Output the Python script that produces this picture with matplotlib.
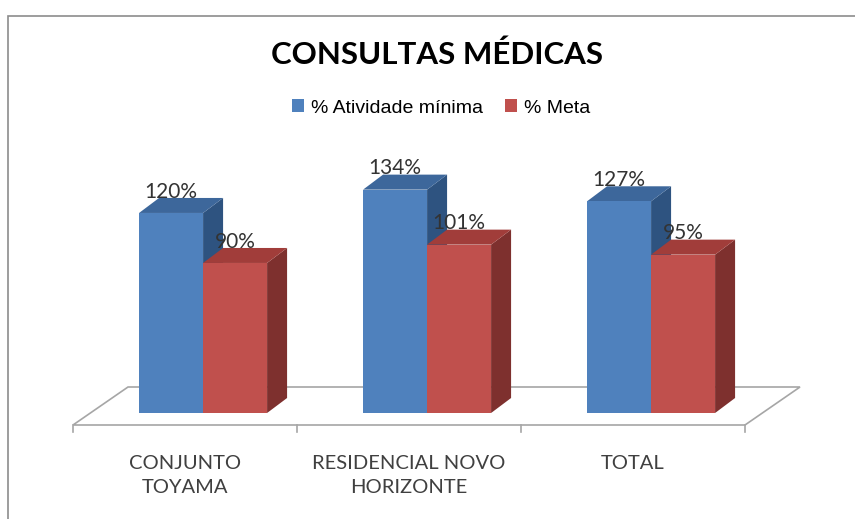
import matplotlib
matplotlib.use('Agg')
import matplotlib.pyplot as plt
from matplotlib.patches import Polygon, Rectangle
import numpy as np

# chart data
categories = ['CONJUNTO\nTOYAMA', 'RESIDENCIAL NOVO\nHORIZONTE', 'TOTAL']
atividade = [120, 134, 127]   # % Atividade mínima
meta = [90, 101, 95]          # % Meta
series_names = ['% Atividade mínima', '% Meta']

# colours (front, top, side)
blue = ('#4F81BD', '#3D679B', '#2E5380')
red = ('#C0504D', '#A13D3A', '#7E302E')

W, H = 855, 519
fig = plt.figure(figsize=(W / 100, H / 100), dpi=100)
ax = fig.add_axes([0, 0, 1, 1])

# pixel scale: 224 px per category, 1.667 px per percent
px_x = 224.0
px_y = 1.667
x0_px, y0_px = 185, 413
ax.set_xlim(-x0_px / px_x, (W - x0_px) / px_x)
ax.set_ylim(-(H - y0_px) / px_y, y0_px / px_y)
ax.axis('off')

# 3d depth of bars and floor
dx, dy = 20 / px_x, 15 / px_y
fdx, fdy = 55 / px_x, 38 / px_y
floor_front = -12 / px_y
bw = 64 / px_x
x = np.arange(len(categories))

# floor
n = len(categories)
floor = Polygon([(-0.5, floor_front), (n - 0.5, floor_front),
                 (n - 0.5 + fdx, floor_front + fdy), (-0.5 + fdx, floor_front + fdy)],
                closed=True, facecolor='white', edgecolor='#A6A6A6', lw=1.2, zorder=1)
ax.add_patch(floor)
for t in np.arange(-0.5, n, 1.0):
    ax.plot([t, t], [floor_front, floor_front - 7 / px_y], color='#A6A6A6', lw=1.2, zorder=1)


def bar3d(left, v, cols, z):
    right = left + bw
    ax.add_patch(Polygon([(right, 0), (right + dx, dy), (right + dx, v + dy), (right, v)],
                         closed=True, facecolor=cols[2], edgecolor='none', zorder=z))
    ax.add_patch(Polygon([(left, v), (left + dx, v + dy), (right + dx, v + dy), (right, v)],
                         closed=True, facecolor=cols[1], edgecolor='none', zorder=z))


lefts_b = x - 0.205
lefts_r = lefts_b + bw
for i in range(n):
    bar3d(lefts_b[i], atividade[i], blue, 2)
    bar3d(lefts_r[i], meta[i], red, 3)
hb = ax.bar(lefts_b, atividade, width=bw, align='edge', color=blue[0], zorder=2,
            label=series_names[0])
hr = ax.bar(lefts_r, meta, width=bw, align='edge', color=red[0], zorder=3,
            label=series_names[1])

# value labels
for i in range(n):
    ax.text(lefts_b[i] + bw / 2, atividade[i] + 12.8, '%d%%' % atividade[i],
            ha='center', va='center', fontsize=15, family='Lato', color='#333333', zorder=5)
    ax.text(lefts_r[i] + bw / 2, meta[i] + 12.8, '%d%%' % meta[i],
            ha='center', va='center', fontsize=15, family='Lato', color='#333333', zorder=5)

# category labels
for i, c in enumerate(categories):
    ax.text(x[i], -(455 - y0_px) / px_y, c, ha='center', va='top', fontsize=14.5,
            family='Lato', color='#404040', linespacing=1.5)

# title and legend
fig.text(437 / W, 1 - 55 / H, 'CONSULTAS MÉDICAS', ha='center', va='center',
         fontsize=22.5, fontweight='bold', family='Lato', color='black')
leg = fig.legend(handles=[hb, hr], loc='center', bbox_to_anchor=(441 / W, 1 - 108 / H),
                 ncol=2, frameon=False, handlelength=0.65, handleheight=0.65,
                 handletextpad=0.35, columnspacing=1.1,
                 prop={'family': 'Liberation Sans', 'size': 14})

# outer frame of chart area
fig.patches.append(Rectangle((8 / W, -0.1), 1.2, 1.1 - 16 / H, transform=fig.transFigure,
                             facecolor='none', edgecolor='#8C8C8C', lw=1.2))

fig.savefig('out.png', dpi=100)
